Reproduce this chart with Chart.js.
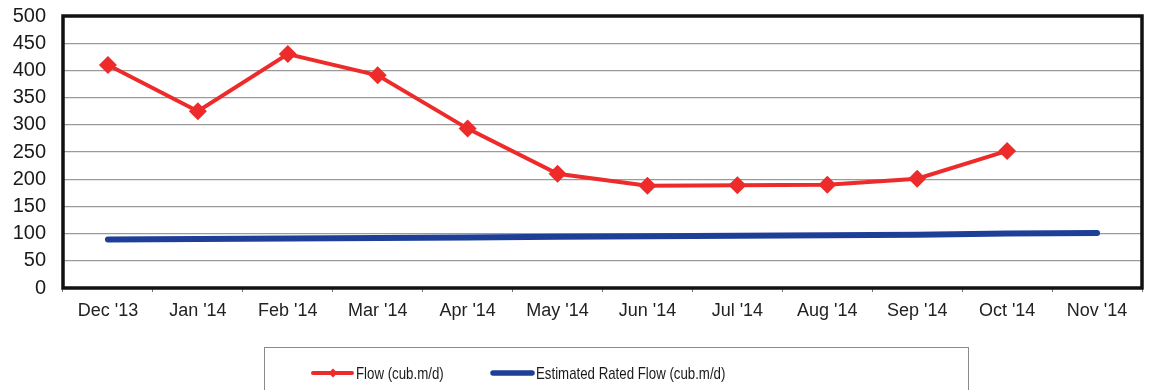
<!DOCTYPE html>
<html>
<head>
<meta charset="utf-8">
<script src="https://cdn.jsdelivr.net/npm/chart.js@4/dist/chart.umd.min.js"></script>
<style>
  html, body { margin: 0; padding: 0; background: #ffffff; }
  #wrap { width: 1151px; height: 390px; position: relative; }
</style>
</head>
<body>
<div id="wrap"><canvas id="c" width="1151" height="390"></canvas></div>
<script>
// Monthly categories
const months = ["Dec '13", "Jan '14", "Feb '14", "Mar '14", "Apr '14", "May '14",
                "Jun '14", "Jul '14", "Aug '14", "Sep '14", "Oct '14", "Nov '14"];

// Measured flow (cub.m/d); no reading for Nov '14
const flow = [410, 325, 430, 391, 293, 210, 188, 189, 190, 201, 252, null];

// Estimated rated flow (cub.m/d)
const ratedFlow = [89, 90, 91, 92, 93, 94, 95, 96, 97, 98, 100, 101];

// Y axis range and step
const yMin = 0, yMax = 500, yStep = 50;

const flowLabel = 'Flow (cub.m/d)';
const ratedLabel = 'Estimated Rated Flow (cub.m/d)';
const RED = '#ee2b2b';
const BLUE = '#1d3f98';
const FONT = '"Liberation Sans", Arial, Helvetica, sans-serif';

// Thick black frame around the plot area
const frame = {
  id: 'frame',
  afterDraw(chart) {
    const a = chart.chartArea, ctx = chart.ctx;
    ctx.save();
    ctx.strokeStyle = '#111';
    ctx.lineWidth = 3.5;
    ctx.strokeRect(a.left, a.top, a.right - a.left, a.bottom - a.top);
    ctx.restore();
  }
};

// Boxed legend beneath the chart
const boxLegend = {
  id: 'boxLegend',
  afterDraw(chart) {
    const ctx = chart.ctx;
    ctx.save();
    ctx.strokeStyle = '#8a8a8a';
    ctx.lineWidth = 1;
    ctx.strokeRect(264.5, 347.5, 704, 60);

    const y = 373;
    const items = [
      { x: 313, ds: chart.data.datasets[0], marker: true, w: 4 },
      { x: 493, ds: chart.data.datasets[1], marker: false, w: 5.5 }
    ];
    items.forEach(it => {
      ctx.strokeStyle = it.ds.borderColor;
      ctx.lineWidth = it.w;
      ctx.lineCap = 'round';
      ctx.beginPath();
      ctx.moveTo(it.x, y);
      ctx.lineTo(it.x + 39, y);
      ctx.stroke();
      if (it.marker) {
        ctx.fillStyle = it.ds.borderColor;
        ctx.beginPath();
        const cx = it.x + 20, r = 4.5;
        ctx.moveTo(cx, y - r); ctx.lineTo(cx + r, y); ctx.lineTo(cx, y + r); ctx.lineTo(cx - r, y);
        ctx.closePath();
        ctx.fill();
      }
      ctx.save();
      ctx.translate(it.x + 43, y);
      ctx.scale(0.78, 1);
      ctx.fillStyle = '#1a1a1a';
      ctx.font = '17px ' + FONT;
      ctx.textBaseline = 'middle';
      ctx.textAlign = 'left';
      ctx.fillText(it.ds.label, 0, 1);
      ctx.restore();
    });
    ctx.restore();
  }
};

new Chart(document.getElementById('c'), {
  type: 'line',
  data: {
    labels: months,
    datasets: [
      {
        label: flowLabel,
        data: flow,
        borderColor: RED,
        backgroundColor: RED,
        borderWidth: 4,
        pointStyle: 'rectRot',
        pointRadius: 9,
        pointHoverRadius: 9,
        pointBorderWidth: 0,
        tension: 0,
        spanGaps: false,
        order: 0
      },
      {
        label: ratedLabel,
        data: ratedFlow,
        borderColor: BLUE,
        backgroundColor: BLUE,
        borderWidth: 6,
        borderCapStyle: 'round',
        pointRadius: 0,
        pointHoverRadius: 0,
        tension: 0,
        order: 1
      }
    ]
  },
  options: {
    responsive: false,
    animation: false,
    layout: { padding: { top: 16, right: 2, bottom: 0, left: 0 } },
    plugins: {
      legend: { display: false },
      tooltip: { enabled: false }
    },
    scales: {
      x: {
        type: 'category',
        offset: true,
        border: { display: false },
        grid: {
          offset: true,
          drawOnChartArea: false,
          drawTicks: true,
          tickLength: 4,
          color: '#777'
        },
        ticks: {
          color: '#222',
          font: { family: FONT, size: 18 },
          padding: 8,
          maxRotation: 0,
          autoSkip: false
        },
        afterFit(s) { s.height = 102; }
      },
      y: {
        min: yMin,
        max: yMax,
        border: { display: false },
        grid: {
          color: '#9a9a9a',
          lineWidth: 1.2,
          drawTicks: true,
          tickLength: 16,
          tickColor: 'rgba(0,0,0,0)'
        },
        ticks: {
          stepSize: yStep,
          color: '#1a1a1a',
          font: { family: FONT, size: 20 },
          padding: 1
        },
        afterFit(s) { s.width = 63; }
      }
    }
  },
  plugins: [frame, boxLegend]
});
</script>
</body>
</html>
